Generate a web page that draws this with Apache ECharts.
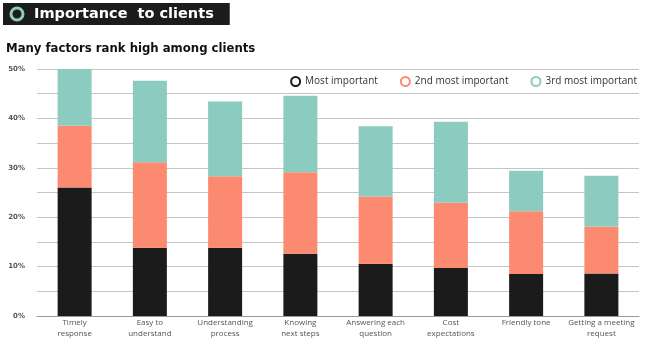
<!DOCTYPE html>
<html>
<head>
<meta charset="utf-8">
<script src="https://cdn.jsdelivr.net/npm/echarts@6/dist/echarts.min.js"></script>
<style>
  html, body { margin: 0; padding: 0; background: #fff; }
  #main { width: 650px; height: 346px; }
</style>
</head>
<body>
<div id="main"></div>
<script>
// categories along the x axis
const categories = [
  'Timely\nresponse', 'Easy to\nunderstand', 'Understanding\nprocess', 'Knowing\nnext steps',
  'Answering each\nquestion', 'Cost\nexpectations', 'Friendly tone', 'Getting a meeting\nrequest'
];
// share of clients (%) per rank
const mostImportant = [26, 13.8, 13.8, 12.6, 10.6, 9.7, 8.5, 8.6];
const secondImportant = [12.5, 17.3, 14.5, 16.5, 13.6, 13.2, 12.7, 9.5];
const thirdImportant = [11.5, 16.5, 15.1, 15.5, 14.2, 16.4, 8.2, 10.3];

const colBlack = '#1b1b1b';
const colSalmon = '#fb8a70';
const colTeal = '#8ccbbf';

let chart = echarts.init(document.getElementById('main'));

function ringItem(name, color) {
  return {
    name: name,
    icon: 'circle',
    itemStyle: { color: '#fff', borderColor: color, borderWidth: 2 }
  };
}

chart.setOption({
  animation: false,
  title: [
    {
      text: 'Importance  to clients',
      left: 3,
      top: 3,
      backgroundColor: '#1c1c1c',
      padding: [3, 16, 3, 31],
      textStyle: { color: '#fff', fontSize: 14.5, fontWeight: 'bold', fontFamily: 'DejaVu Sans', lineHeight: 16 }
    },
    {
      text: 'Many factors rank high among clients',
      left: 1,
      top: 38,
      textStyle: { color: '#111', fontSize: 11.7, fontWeight: 'bold', fontFamily: 'DejaVu Sans' }
    }
  ],
  graphic: [
    {
      type: 'circle',
      shape: { cx: 17, cy: 14, r: 6 },
      style: { fill: 'none', stroke: colTeal, lineWidth: 3 },
      z: 100
    }
  ],
  legend: {
    right: 8,
    top: 71,
    itemWidth: 9,
    itemHeight: 9,
    itemGap: 22,
    textStyle: { color: '#333', fontSize: 10, fontFamily: 'Open Sans' },
    data: [
      ringItem('Most important', colBlack),
      ringItem('2nd most important', colSalmon),
      ringItem('3rd most important', colTeal)
    ]
  },
  grid: { left: 37, right: 11, top: 69, bottom: 30 },
  xAxis: {
    type: 'category',
    data: categories,
    axisTick: { show: false },
    axisLine: { lineStyle: { color: '#999', width: 1 } },
    axisLabel: { color: '#555', fontSize: 8, fontFamily: 'Open Sans', lineHeight: 11, margin: 1, interval: 0 }
  },
  yAxis: {
    type: 'value',
    min: 0,
    max: 50,
    interval: 5,
    axisLine: { show: false },
    axisTick: { show: false },
    splitLine: { lineStyle: { color: '#c4c4c4', width: 1 } },
    axisLabel: {
      color: '#555',
      fontSize: 7,
      fontWeight: 'bold',
      fontFamily: 'DejaVu Sans',
      margin: 12,
      formatter: v => (v % 10 === 0 ? v + '%' : '')
    }
  },
  series: [
    { name: 'Most important', type: 'bar', stack: 'rank', barWidth: 34, data: mostImportant, itemStyle: { color: colBlack } },
    { name: '2nd most important', type: 'bar', stack: 'rank', data: secondImportant, itemStyle: { color: colSalmon } },
    { name: '3rd most important', type: 'bar', stack: 'rank', data: thirdImportant, itemStyle: { color: colTeal } }
  ]
});
</script>
</body>
</html>
